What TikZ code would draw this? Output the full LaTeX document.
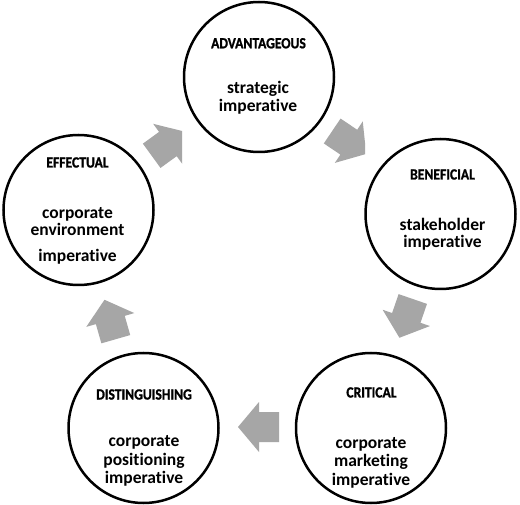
\documentclass[tikz,border=0pt]{standalone}
\usepackage{fontspec}
\setmainfont{Carlito}[Ligatures=NoCommon]
\newfontfamily\titlefont{Carlito}[Ligatures=NoCommon,BoldFeatures={FakeBold=1.2,FakeStretch=0.88}]
\definecolor{arrowgray}{RGB}{166,166,166}
\begin{document}
\begin{tikzpicture}[x=1pt,y=-1pt,
  circ/.style={circle,draw=black,line width=2.5pt,minimum size=150pt,inner sep=0pt},
  ttl/.style={font=\titlefont\fontsize{15.5}{17}\selectfont\bfseries,anchor=base,inner sep=0pt},
  bodytxt/.style={font=\fontsize{17.5}{18}\selectfont\bfseries,anchor=base,inner sep=0pt},
  blockarrow/.style={fill=arrowgray,draw=none}]
\useasboundingbox (0,0) rectangle (520,505);
\fill[white] (0,0) rectangle (520,505);
% circles
\node[circ] (adv) at (259,77) {};
\node[circ] (ben) at (440.5,214) {};
\node[circ] (crit) at (371,428) {};
\node[circ] (dist) at (143.5,428) {};
\node[circ] (eff) at (78.5,210) {};
% texts
\node[ttl] (advt) at (258.5,48.3) {ADVANTAGEOUS};
\node[bodytxt] (adv1) at (258,94) {strategic};
\node[bodytxt] (adv2) at (258,111.7) {imperative};
\node[ttl] (bent) at (442.5,179.5) {BENEFICIAL};
\node[bodytxt] (ben1) at (442.5,231) {stakeholder};
\node[bodytxt] (ben2) at (442.5,248) {imperative};
\node[ttl] (critt) at (371.5,397.5) {CRITICAL};
\node[bodytxt] (crit1) at (371,448) {corporate};
\node[bodytxt] (crit2) at (371,466.5) {marketing};
\node[bodytxt] (crit3) at (371,485) {imperative};
\node[ttl] (distt) at (144,399.5) {DISTINGUISHING};
\node[bodytxt] (dist1) at (144,446.5) {corporate};
\node[bodytxt] (dist2) at (144,465) {positioning};
\node[bodytxt] (dist3) at (144,483) {imperative};
\node[ttl] (efft) at (77.5,167.5) {EFFECTUAL};
\node[bodytxt] (eff1) at (77.5,219) {corporate};
\node[bodytxt] (eff2) at (77.5,236) {environment};
\node[bodytxt] (eff3) at (77.5,262) {imperative};
% arrow tails
\coordinate (a1) at (151.7,155.8);
\coordinate (a2) at (332.2,131);
\coordinate (a3) at (412.8,299);
\coordinate (a4) at (279,427);
\coordinate (a5) at (115.8,339.2);
\begin{scope}
\clip (0,0) rectangle (182,505);
\fill[blockarrow,shift={(a1)},rotate=36] (0,-15) -- (20,-15) -- (20,-25) -- (41,0) -- (20,25) -- (20,15) -- (0,15) -- cycle;
\end{scope}
\begin{scope}
\clip (0,0) rectangle (365,505);
\fill[blockarrow,shift={(a2)},rotate=-34] (0,-15) -- (20,-15) -- (20,-25) -- (41,0) -- (20,25) -- (20,15) -- (0,15) -- cycle;
\end{scope}
\fill[blockarrow,shift={(a3)},rotate=-109] (0,-15) -- (20,-15) -- (20,-25) -- (41,0) -- (20,25) -- (20,15) -- (0,15) -- cycle;
\fill[blockarrow,shift={(a4)},rotate=180] (0,-15) -- (20,-15) -- (20,-25) -- (41,0) -- (20,25) -- (20,15) -- (0,15) -- cycle;
\fill[blockarrow,shift={(a5)},rotate=106] (0,-15) -- (20,-15) -- (20,-25) -- (41,0) -- (20,25) -- (20,15) -- (0,15) -- cycle;
\end{tikzpicture}
\end{document}
